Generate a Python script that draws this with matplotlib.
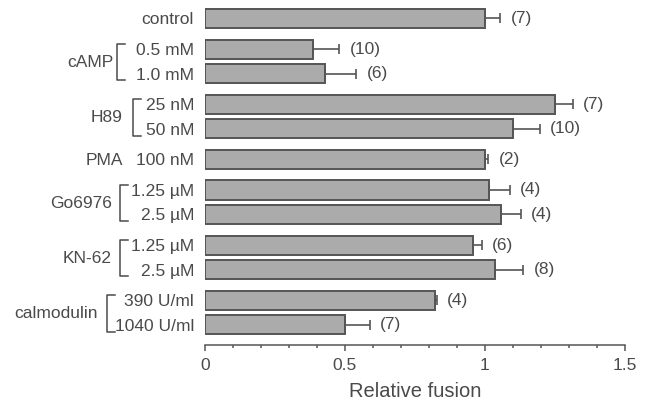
import matplotlib
matplotlib.use("Agg")
import matplotlib.pyplot as plt
import matplotlib.transforms as mtransforms
import numpy as np

plt.rcParams["font.family"] = ["Liberation Sans", "DejaVu Sans"]

TEXT_COLOR = "#4a4a4a"
BAR_COLOR = "#ababab"
EDGE_COLOR = "#555555"

sub_labels = ["control", "0.5 mM", "1.0 mM", "25 nM", "50 nM", "100 nM",
              "1.25 \u00b5M", "2.5 \u00b5M", "1.25 \u00b5M", "2.5 \u00b5M",
              "390 U/ml", "1040 U/ml"]
group_names = ["", "cAMP", "H89", "PMA", "Go6976", "KN-62", "calmodulin"]
group_sizes = [1, 2, 2, 1, 2, 2, 2]
fusion = [1.0, 0.387, 0.43, 1.25, 1.101, 1.001, 1.016, 1.057, 0.958, 1.036, 0.821, 0.5]
sem = [0.055, 0.093, 0.11, 0.063, 0.095, 0.01, 0.073, 0.07, 0.03, 0.101, 0.006, 0.089]
n_obs = [7, 10, 6, 7, 10, 2, 4, 4, 6, 8, 4, 7]

# layout (figure pixels) for group labels and brackets
label_right_px = [None, 113, 123, 123, 112, 112, 98]
bracket_px = [None, 117, 133, None, 120, 120, 107]
SERIF_PX = 8
GROUP_GAP = 1.25

# bar positions: spacing 1 within a group, larger between groups
positions = []
group_pos = []
y = 0.0
for gi, size in enumerate(group_sizes):
    if gi > 0:
        y += GROUP_GAP
    members = []
    for k in range(size):
        if k > 0:
            y += 1.0
        positions.append(y)
        members.append(y)
    group_pos.append(members)
positions = np.array(positions)

W, H = 652, 401
fig = plt.figure(figsize=(W / 100, H / 100), dpi=100)
ax = fig.add_axes([205 / W, 1 - 345 / H, 420 / W, 340 / H])

ax.barh(positions, fusion, height=0.78, color=BAR_COLOR, edgecolor=EDGE_COLOR,
        linewidth=1.4, zorder=2)
ax.errorbar(fusion, positions, xerr=[np.zeros(len(sem)), sem], fmt="none",
            ecolor=EDGE_COLOR, elinewidth=1.2, capsize=3.6, capthick=1.2, zorder=3)
for x, e, yy, n in zip(fusion, sem, positions, n_obs):
    ax.annotate(f"({n})", (x + e, yy), xytext=(7.5, 0), textcoords="offset points",
                ha="left", va="center", fontsize=12.5, color=TEXT_COLOR)

ax.set_xlim(0, 1.5)
ax.set_ylim((345 - 18.5) / 24.5, (5 - 18.5) / 24.5)
ax.set_xticks([0, 0.5, 1, 1.5], ["0", "0.5", "1", "1.5"])
ax.set_xticks(np.arange(0, 1.51, 0.1), minor=True)
ax.tick_params(axis="x", which="major", direction="out", length=4.5, width=1.1,
               colors=EDGE_COLOR, labelcolor=TEXT_COLOR, labelsize=12.5, pad=5)
ax.tick_params(axis="x", which="minor", direction="out", length=2.5, width=1.1,
               colors=EDGE_COLOR)
ax.set_yticks(positions, sub_labels)
ax.tick_params(axis="y", length=0, pad=8, labelsize=12.5, labelcolor=TEXT_COLOR)
for side in ["top", "right", "left"]:
    ax.spines[side].set_visible(False)
ax.spines["bottom"].set_color(EDGE_COLOR)
ax.spines["bottom"].set_linewidth(1.1)
ax.set_xlabel("Relative fusion", fontsize=14.5, color=TEXT_COLOR, labelpad=6)

trans = mtransforms.blended_transform_factory(fig.transFigure, ax.transData)
for name, members, lx, bx in zip(group_names, group_pos, label_right_px, bracket_px):
    if not name:
        continue
    mid = np.mean(members)
    ax.text(lx / W, mid + 0.04, name, transform=trans, ha="right", va="center",
            fontsize=12.5, color=TEXT_COLOR, clip_on=False)
    if bx is not None:
        top = members[0] - 0.2
        bot = members[-1] + 0.28
        ax.plot([(bx + SERIF_PX) / W, bx / W, bx / W, (bx + SERIF_PX) / W],
                [top, top, bot, bot],
                transform=trans, color=TEXT_COLOR, linewidth=1.1, clip_on=False)

fig.savefig("out.png", dpi=100, facecolor="white")
